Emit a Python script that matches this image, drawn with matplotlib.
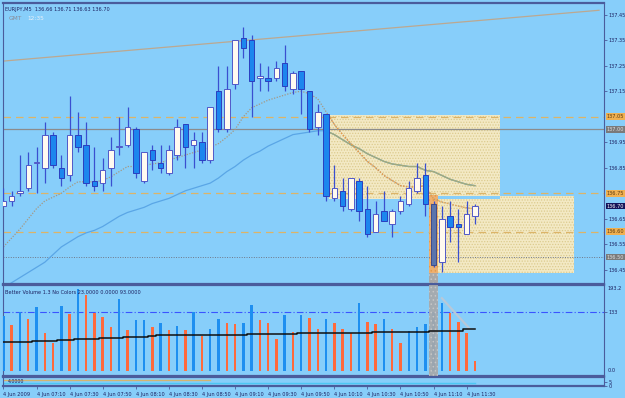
import matplotlib
matplotlib.use("Agg")
import matplotlib.pyplot as plt
import matplotlib.transforms as mtransforms
from matplotlib.patches import Rectangle
import numpy as np

# ---- data (EURJPY, M5, 4 Jun 2009) ----
opens = [136.70, 136.72, 136.75, 136.77, 136.87, 136.85, 136.98, 136.85, 136.82, 136.98,
         136.94, 136.80, 136.79, 136.85, 136.93, 136.94, 137.00, 136.80, 136.92, 136.87,
         136.83, 136.90, 137.02, 136.94, 136.95, 136.88, 137.15, 137.00, 137.18, 137.36,
         137.35, 137.20, 137.20, 137.20, 137.26, 137.16, 137.23, 137.15, 137.01, 137.06,
         136.73, 136.76, 136.69, 136.80, 136.69, 136.60, 136.68, 136.63, 136.68, 136.71,
         136.76, 136.82, 136.71, 136.48, 136.66, 136.63, 136.59, 136.66]
highs = [136.77, 136.76, 136.90, 136.91, 136.93, 137.03, 136.99, 136.90, 137.13, 137.07,
         137.03, 136.93, 136.89, 136.97, 137.05, 137.09, 137.01, 136.91, 136.94, 136.94,
         136.94, 137.04, 137.02, 136.99, 136.99, 137.09, 137.25, 137.25, 137.35, 137.40,
         137.37, 137.26, 137.25, 137.27, 137.33, 137.23, 137.23, 137.15, 137.10, 137.06,
         136.86, 136.81, 136.81, 136.81, 136.78, 136.72, 136.76, 136.69, 136.74, 136.80,
         136.87, 136.87, 136.72, 136.70, 136.72, 136.69, 136.72, 136.71]
lows = [136.70, 136.70, 136.74, 136.76, 136.75, 136.79, 136.85, 136.78, 136.80, 136.91,
        136.78, 136.76, 136.76, 136.78, 136.90, 136.93, 136.81, 136.79, 136.84, 136.83,
        136.82, 136.88, 136.85, 136.85, 136.87, 136.87, 136.99, 136.99, 137.16, 137.28,
        137.05, 137.15, 137.15, 137.19, 137.15, 137.14, 137.06, 136.99, 136.98, 136.72,
        136.72, 136.68, 136.68, 136.64, 136.58, 136.60, 136.64, 136.58, 136.67, 136.70,
        136.75, 136.66, 136.46, 136.44, 136.56, 136.48, 136.59, 136.63]
closes = [136.72, 136.74, 136.76, 136.86, 136.87, 136.98, 136.86, 136.81, 136.98, 136.93,
          136.79, 136.78, 136.84, 136.92, 136.93, 137.01, 136.83, 136.91, 136.88, 136.85,
          136.92, 137.01, 136.93, 136.96, 136.88, 137.09, 137.00, 137.16, 137.35, 137.32,
          137.19, 137.21, 137.19, 137.24, 137.17, 137.22, 137.16, 137.00, 137.07, 136.74,
          136.77, 136.70, 136.81, 136.68, 136.59, 136.67, 136.64, 136.68, 136.72, 136.77,
          136.81, 136.71, 136.47, 136.65, 136.62, 136.62, 136.67, 136.70]

ma_dot = [136.54, 136.575, 136.61, 136.65, 136.69, 136.72, 136.735, 136.75, 136.775, 136.795,
          136.795, 136.795, 136.80, 136.815, 136.835, 136.855, 136.855, 136.86, 136.865, 136.87,
          136.88, 136.89, 136.90, 136.91, 136.92, 136.93, 136.945, 136.97, 137.00, 137.05,
          137.085, 137.10, 137.115, 137.125, 137.135, 137.145, 137.15, 137.14, 137.12, 137.07,
          137.02, 136.98, 136.945, 136.91, 136.875, 136.85, 136.82, 136.80, 136.78, 136.775,
          136.775, 136.78, 136.728, 136.716, 136.708, 136.70, 136.693, 136.689]
ma_blue = [136.38, 136.40, 136.42, 136.44, 136.46, 136.48, 136.51, 136.54, 136.56, 136.58,
           136.595, 136.605, 136.62, 136.64, 136.66, 136.675, 136.685, 136.695, 136.71, 136.72,
           136.73, 136.745, 136.76, 136.77, 136.78, 136.79, 136.81, 136.835, 136.855, 136.88,
           136.90, 136.915, 136.935, 136.95, 136.965, 136.98, 136.985, 136.99, 136.995, 136.995,
           136.98, 136.96, 136.94, 136.925, 136.905, 136.89, 136.875, 136.865, 136.86, 136.855,
           136.855, 136.84, 136.835, 136.82, 136.805, 136.795, 136.785, 136.78]

volume = [125, 104, 134, 118, 146, 87, 64, 147, 129, 185,
          172, 132, 122, 99, 164, 93, 116, 116, 100, 108,
          93, 102, 93, 133, 79, 95, 118, 108, 106, 108,
          150, 116, 108, 72, 127, 89, 127, 119, 95, 118,
          108, 95, 87, 153, 112, 106, 118, 95, 64, 91,
          100, 106, 134, 155, 132, 110, 85, 23]
vol_side = "BOBOBOOBOB" "OOOOBOBBOB" "OBOBOBBOOB" "BOOOBOBOOB" "OOOBOOBOOB" "BBBBOOOO"
vol_ma = [65, 65, 66.4, 66.4, 68, 68, 68, 69.5, 69.5, 71.7,
          73.3, 73.3, 75.5, 75.5, 75.5, 77.8, 77.8, 78, 78.5, 80.8,
          80.8, 80.8, 80.8, 80.8, 80.8, 81.6, 81.6, 81.6, 81.6, 81.6,
          83.1, 83.1, 83.1, 83.1, 83.1, 84, 85.4, 85.4, 85.4, 85.4,
          85.4, 85.4, 86.9, 86.9, 86.9, 89.1, 89.1, 89.1, 89.1, 89.1,
          89.1, 89.1, 91.4, 91.4, 91.4, 91.4, 94.4, 94.4]

time_labels = ["4 Jun 2009", "4 Jun 07:10", "4 Jun 07:30", "4 Jun 07:50", "4 Jun 08:10",
               "4 Jun 08:30", "4 Jun 08:50", "4 Jun 09:10", "4 Jun 09:30", "4 Jun 09:50",
               "4 Jun 10:10", "4 Jun 10:30", "4 Jun 10:50", "4 Jun 11:10", "4 Jun 11:30"]
price_ticks = [137.45, 137.35, 137.25, 137.15, 136.95, 136.85, 136.65, 136.55, 136.45]
# (price, label, background, text colour)
price_marks = [(137.05, "137.05", "#f0b050", "#5a3a10"),
               (137.00, "137.00", "#7a7a7a", "#e0e0e0"),
               (136.75, "136.75", "#f0b050", "#5a3a10"),
               (136.70, "136.70", "#14145a", "#ffffff"),
               (136.60, "136.60", "#f0b050", "#5a3a10"),
               (136.50, "136.50", "#7a7a7a", "#e0e0e0")]
# objects: boxes (bar from, bar to, price low, price high) and trend lines
box_upper = (39.3, 60.0, 136.726, 137.057)
box_lower = (51.4, 69.0, 136.438, 136.740)
trend_pts = ([0, 72], [137.268, 137.467])
vol_line_pts = ([53, 56.3], [165, 97])

BG = "#87cefa"
FRAME = "#4a5c9c"
TXT = "#1c2060"
W, H = 625, 398

fig = plt.figure(figsize=(W / 100, H / 100), dpi=100, facecolor=BG)
plt.rcParams["font.family"] = ["DejaVu Sans"]
plt.rcParams["hatch.linewidth"] = 0.6


def px_axes(x0, y0, x1, y1):
    return fig.add_axes([x0 / W, 1 - y1 / H, (x1 - x0) / W, (y1 - y0) / H])


ax = px_axes(3, 3, 604, 284)
axv = px_axes(3, 285, 604, 376)
axi = px_axes(3, 377, 604, 386)

n = len(opens)
xs = np.arange(n)
xlim = (-0.05, 72.6)

for a in (ax, axv, axi):
    a.set_facecolor(BG)
    a.set_xlim(*xlim)
    for s in a.spines.values():
        s.set_color(FRAME)
        s.set_linewidth(0.8)
    a.spines["top"].set_linewidth(1.6)
    a.spines["bottom"].set_linewidth(1.6)
    a.tick_params(axis="both", colors=FRAME, labelcolor=TXT, labelsize=3.6,
                  length=2, width=0.6, pad=1)
    a.yaxis.tick_right()
    a.set_xticks([])

ax.set_ylim(136.3948, 137.4955)

# boxes with stippled fill
box_patches = []
for bx0, bx1, plo, phi in (box_upper, box_lower):
    r = Rectangle((bx0, plo), bx1 - bx0, phi - plo, facecolor="#f3e9c4",
                  edgecolor="#dccb8e", hatch="......", linewidth=0, zorder=1)
    ax.add_patch(r)
    box_patches.append(r)
ov_x0 = box_lower[0]
ax.add_patch(Rectangle((ov_x0, box_upper[2]), box_upper[1] - ov_x0,
                       box_lower[3] - box_upper[2], facecolor=BG, linewidth=0, zorder=1.1))

# highlighted bar 52
ax.add_patch(Rectangle((51.45, box_lower[2]), 1.1, box_lower[3] - box_lower[2] + 0.005,
                       facecolor="#eeb070", edgecolor="#e39a4a", hatch="....",
                       linewidth=0, zorder=1.2))
ax.add_patch(Rectangle((51.45, ax.get_ylim()[0]), 1.1, box_lower[2] - ax.get_ylim()[0],
                       facecolor="#a8a8a8", edgecolor="#c8c8c8", hatch="....",
                       linewidth=0, zorder=1.2))

# horizontal levels
ax.axhline(137.05, color="#dcb468", lw=0.9, ls=(0, (6, 4)), zorder=1.5)
ax.axhline(137.00, color="#8c8c8c", lw=0.9, zorder=1.5)
ax.axhline(136.75, color="#dcb468", lw=0.9, ls=(0, (6, 4)), zorder=1.5)
ax.axhline(136.60, color="#dcb468", lw=0.9, ls=(0, (6, 4)), zorder=1.5)
ax.axhline(136.50, color="#707888", lw=0.7, ls=(0, (1, 1.5)), zorder=1.5)

# trend line
ax.plot(trend_pts[0], trend_pts[1], color="#bca890", lw=0.9, zorder=1.6)

# moving averages, recoloured inside the boxes
ax.plot(xs, ma_blue, color="#5aa6e6", lw=0.9, zorder=2)
ln = ax.plot(xs, ma_blue, color="#a4aa7a", lw=1.0, zorder=2.1)[0]
ln.set_clip_path(box_patches[0])
ax.plot(xs, ma_dot, color="#a49884", lw=0.9, ls=(0, (1, 1.2)), zorder=2)
for bp, col in zip(box_patches, ["#e89a48", "#f0ae5a"]):
    ln = ax.plot(xs, ma_dot, color=col, lw=1.0, ls=(0, (1, 1.2)), zorder=2.1)[0]
    ln.set_clip_path(bp)

# candles
o = np.array(opens)
c = np.array(closes)
bull = c >= o
body_lo = np.minimum(o, c)
body_h = np.maximum(np.abs(c - o), 0.004)
ax.vlines(xs, lows, highs, colors="#3a4fd0", lw=0.9, zorder=3)
face = np.where(bull, "#fffaf0", "#1c86ee").tolist()
edge = np.where(bull, "#5058c8", "#2a3ec0").tolist()
face[52] = "#5a74ac"
edge[52] = "#3c4c8c"
ax.bar(xs, body_h, bottom=body_lo, width=0.66, color=face, edgecolor=edge,
       linewidth=0.7, zorder=4)

# right price scale
ax.set_yticks(price_ticks)
ax.set_yticklabels([f"{p:.2f}" for p in price_ticks])
tr = mtransforms.blended_transform_factory(ax.transAxes, ax.transData)
for p, lab, bgc, tc in price_marks:
    ax.text(1.004, p, lab, transform=tr, fontsize=3.6, color=tc, va="center", ha="left",
            bbox=dict(boxstyle="square,pad=0.15", facecolor=bgc, edgecolor="none"),
            clip_on=False)

ax.text(0.003, 0.985, "EURJPY,M5  136.66 136.71 136.63 136.70", transform=ax.transAxes,
        fontsize=3.6, color=TXT, va="top", ha="left")
ax.text(0.009, 0.955, "GMT", transform=ax.transAxes, fontsize=4.2, color="#8a8a96",
        va="top", ha="left")
ax.text(0.040, 0.955, "12:35", transform=ax.transAxes, fontsize=4.2, color="#e8f0f8",
        va="top", ha="left")

# volume panel
vcol = ["#1e8ff0" if s == "B" else "#ff6a3c" for s in vol_side]
axv.set_ylim(-11.3, 194.8)
axv.bar(xs, volume, width=0.3, color=vcol, zorder=3)
axv.axhline(133, color="#3a54ff", lw=0.8, ls=(0, (6, 2, 1, 2)), zorder=2)
axv.plot(xs, vol_ma, color="#101010", lw=1.1, drawstyle="steps-mid", zorder=4)
axv.plot(vol_line_pts[0], vol_line_pts[1], color="#b8c8d8", lw=1.6, zorder=3.5)
axv.axvspan(51.45, 52.55, facecolor="#a8a8a8", edgecolor="#c8c8c8", hatch="....",
            linewidth=0, zorder=3.2, alpha=0.9)
axv.set_yticks([133])
axv.set_yticklabels(["133"])
trv = mtransforms.blended_transform_factory(axv.transAxes, axv.transData)
axv.text(1.006, 187, "193.2", transform=trv, fontsize=3.6, color=TXT, va="center")
axv.text(1.006, 1, "0.0", transform=trv, fontsize=3.6, color=TXT, va="center")
axv.text(0.003, 0.95, "Better Volume 1.3 No Colors 23.0000 0.0000 93.0000",
         transform=axv.transAxes, fontsize=3.6, color=TXT, va="top", ha="left")

# bottom indicator strip
axi.set_ylim(0, 10)
axi.plot([0, 25], [7, 7], color="#d4b470", lw=1.0)
axi.plot([0, 57], [3.5, 3.5], color="#4cc8f4", lw=1.0)
axi.text(0.008, 0.5, "4.0000", transform=axi.transAxes, fontsize=3.4, color=TXT,
         va="center", ha="left")
axi.set_yticks([5, 0])
axi.set_yticklabels(["5", "0"])
axi.set_xticks(np.arange(0, 57, 4))
axi.set_xticklabels(time_labels, ha="left")
axi.tick_params(axis="x", length=2, pad=2)

fig.savefig("out.png", dpi=100, facecolor=BG)
